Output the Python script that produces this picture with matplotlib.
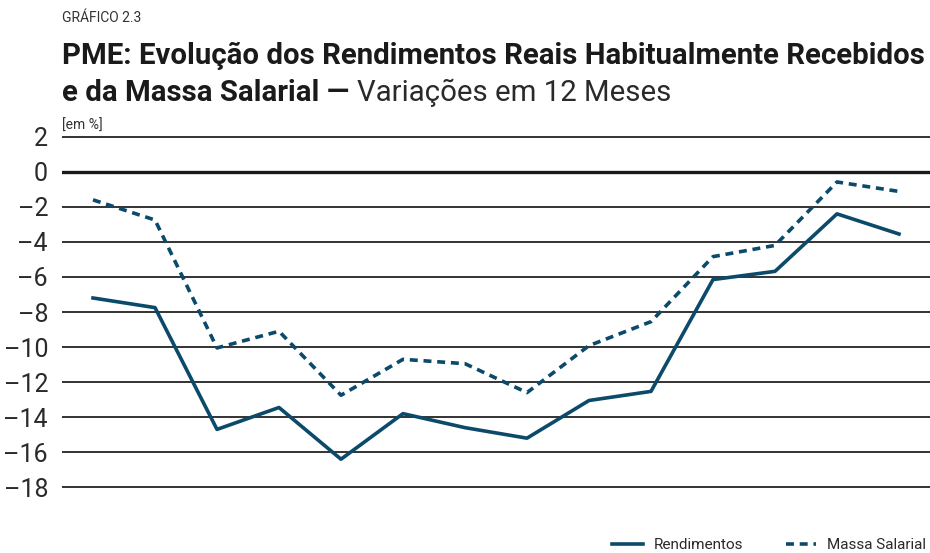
import numpy as np
import matplotlib.pyplot as plt
import matplotlib as mpl

plt.rcParams['font.family'] = ['Roboto', 'DejaVu Sans']

# dados (variacoes em 12 meses, %)
periodos = list(range(14))
rendimentos = [-7.2, -7.75, -14.7, -13.45, -16.4, -13.8, -14.6, -15.2, -13.05, -12.53, -6.15, -5.68, -2.4, -3.55]
massa_salarial = [-1.6, -2.75, -10.05, -9.1, -12.75, -10.7, -10.95, -12.6, -9.92, -8.55, -4.84, -4.2, -0.58, -1.12]
yticks = [2, 0, -2, -4, -6, -8, -10, -12, -14, -16, -18]

cor = '#0b4a6a'

W, H = 930, 553
fig = plt.figure(figsize=(W / 100, H / 100), dpi=100)
# eixo: x de 62 a 930 px, y de 128 a 496 px
ax = fig.add_axes([62 / W, 1 - 496 / H, (930 - 62) / W, (496 - 128) / H])
ax.set_xlim(-0.5, 13.5)
ax.set_ylim(-18.5, 2.5)

for v in yticks:
    ax.axhline(v, color='#1a1a1a' if v == 0 else '#333333', lw=2.4 if v == 0 else 1.4, zorder=1)

ax.plot(periodos, rendimentos, color=cor, lw=2.6, zorder=3, label='Rendimentos')
ax.plot(periodos, massa_salarial, color=cor, lw=2.6, ls=(0, (2.2, 1.6)), zorder=3, label='Massa Salarial')

for s in ax.spines.values():
    s.set_visible(False)
ax.set_xticks([])
ax.set_yticks(yticks)
ax.set_yticklabels([str(v).replace('-', '\u2013') for v in yticks], fontsize=18, color='#2a2a2a')
ax.tick_params(axis='y', length=0, pad=10)

# titulos
fig.text(62 / W, 1 - 18 / H, 'GRÁFICO 2.3', fontsize=10, color='#333333', va='center')
t1 = fig.text(62 / W, 1 - 56 / H, 'PME: Evolução dos Rendimentos Reais Habitualmente Recebidos',
              fontsize=21, fontweight='bold', color='#1a1a1a', va='center')
fig.canvas.draw()
w1 = t1.get_window_extent().width
fs = 21 * 863 / w1
t1.set_fontsize(fs)
t2 = fig.text(62 / W, 1 - 93 / H, 'e da Massa Salarial \u2014 ', fontsize=fs, fontweight='bold',
              color='#1a1a1a', va='center')
fig.canvas.draw()
bb = t2.get_window_extent()
fig.text(bb.x1 / W, 1 - 93 / H, 'Variações em 12 Meses', fontsize=fs, color='#2a2a2a', va='center')
fig.text(62 / W, 1 - 126 / H, '[em %]', fontsize=10, color='#333333', va='center')

h, l = ax.get_legend_handles_labels()
leg = fig.legend(h, l, loc='center right', bbox_to_anchor=(926 / W, 1 - 545 / H), ncol=2,
                 frameon=False, fontsize=11, handlelength=2.0, columnspacing=2.8,
                 handletextpad=0.7, borderpad=0, borderaxespad=0)
for txt in leg.get_texts():
    txt.set_color('#2a2a2a')

fig.savefig('out.png', dpi=100)
